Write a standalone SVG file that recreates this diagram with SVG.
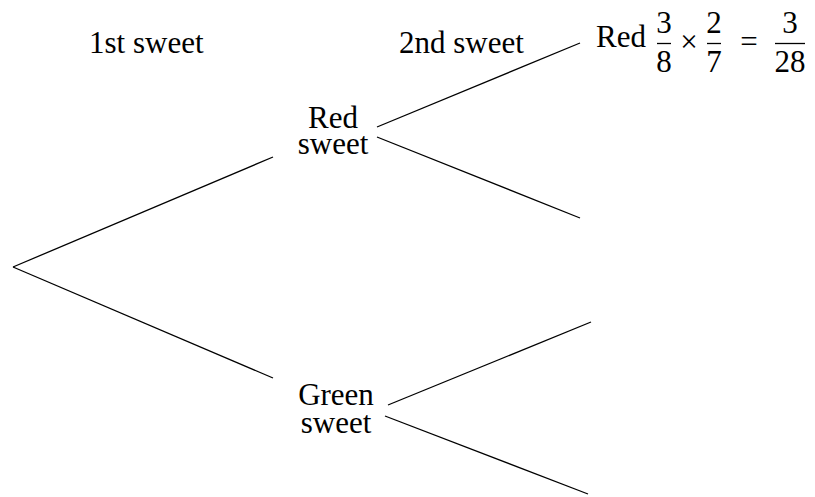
<svg xmlns="http://www.w3.org/2000/svg" width="815" height="497" viewBox="0 0 815 497">
<style>
text{font-family:"Liberation Serif","Times New Roman",serif;font-size:31px;fill:#000}
.c{text-anchor:middle}
line{stroke:#000;stroke-width:1.3}
</style>
<rect width="815" height="497" fill="#fff"/>
<g id="headers">
<text x="89" y="53">1st sweet</text>
<text x="399" y="53">2nd sweet</text>
</g>
<g id="connectors">
<line x1="13" y1="267" x2="273" y2="157"/>
<line x1="13" y1="267" x2="273" y2="378"/>
<line x1="377" y1="127" x2="580" y2="43"/>
<line x1="377" y1="137" x2="580" y2="218"/>
<line x1="388" y1="405" x2="591" y2="322"/>
<line x1="385" y1="416" x2="588" y2="494"/>
</g>
<g id="node-red">
<text class="c" x="333" y="128">Red</text>
<text class="c" x="333" y="154">sweet</text>
</g>
<g id="node-green">
<text class="c" x="336" y="405">Green</text>
<text class="c" x="336" y="433">sweet</text>
</g>
<g id="node-result">
<text x="596" y="47">Red</text>
<text class="c" x="664" y="33">3</text>
<line x1="657" y1="43.5" x2="671" y2="43.5"/>
<text class="c" x="664" y="72">8</text>
<text class="c" x="689" y="52">×</text>
<text class="c" x="714" y="33">2</text>
<line x1="707" y1="43.5" x2="721" y2="43.5"/>
<text class="c" x="714" y="72">7</text>
<text class="c" x="749" y="52">=</text>
<text class="c" x="790" y="33">3</text>
<line x1="775" y1="43.5" x2="805" y2="43.5"/>
<text class="c" x="790" y="72">28</text>
</g>
</svg>
